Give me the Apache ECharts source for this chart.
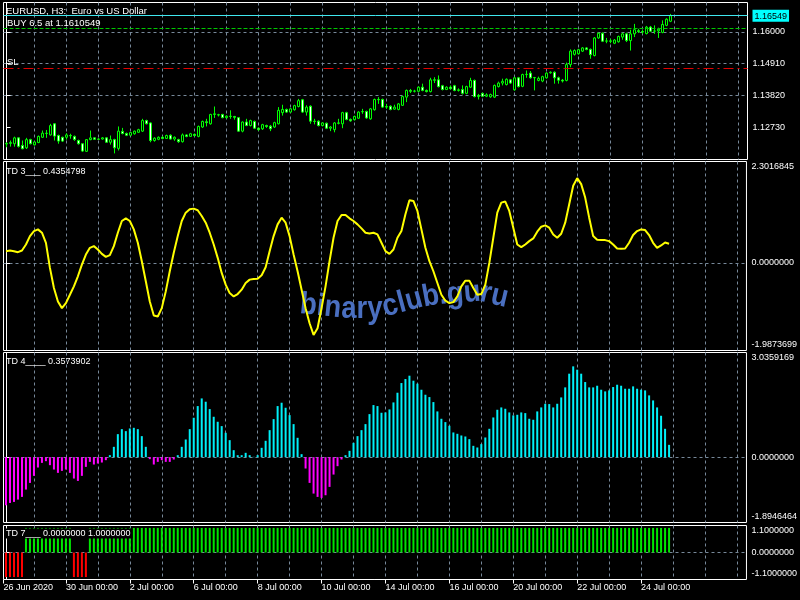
<!DOCTYPE html>
<html><head><meta charset="utf-8">
<script src="https://cdn.jsdelivr.net/npm/echarts@6/dist/echarts.min.js"></script>
<style>html,body{margin:0;padding:0;background:#000}#c{width:800px;height:600px}</style>
</head><body><div id="c"></div>
<script>
// ---------- texts ----------
const symbolTitle = 'EURUSD, H3:  Euro vs US Dollar';
const tradeText = 'BUY 6.5 at 1.1610549';
const slText = 'SL';
const td3Label = 'TD 3___ 0.4354798';
const td4Label = 'TD 4____ 0.3573902';
const td7Label = 'TD 7___ 0.0000000 1.0000000';
const watermark = 'binaryclub.guru';

// ---------- price levels ----------
const bidPrice = 1.16549;
const buyPrice = 1.1610549;
const slPrice = 1.14773;
const priceTicks = [1.12730, 1.13820, 1.14910, 1.16000];
const priceRange = [1.116416, 1.17];
const td3Range = [-1.9873699, 2.3016845];
const td4Range = [-1.8946464, 3.0359169];
const td7Range = [-1.1, 1.1];

// ---------- time axis (bar index) ----------
const xTickBars = [-0.625, 15, 31, 47, 63, 79, 95, 111, 127, 143, 159];
const xTickLabels = ['26 Jun 2020', '30 Jun 00:00', '2 Jul 00:00', '6 Jul 00:00', '8 Jul 00:00', '10 Jul 00:00',
  '14 Jul 00:00', '16 Jul 00:00', '20 Jul 00:00', '22 Jul 00:00', '24 Jul 00:00'];
const dayStartBars = [7, 15, 23, 31, 39, 47, 55, 63, 71, 79, 87, 95, 103, 111, 119, 127, 135, 143, 151, 159, 167, 175, 183];

// ---------- candles ----------
const open = [1.1217,1.1219,1.1218,1.1238,1.1212,1.1204,1.1232,1.1214,1.1222,1.1240,1.1254,1.1248,1.1286,1.1246,1.1240,1.1240,1.1246,1.1243,1.1229,1.1218,
1.1192,1.1232,1.1238,1.1233,1.1234,1.1238,1.1223,1.1232,1.1202,1.1260,1.1253,1.1247,1.1252,1.1257,1.1261,1.1297,1.1289,1.1229,1.1233,1.1240,
1.1236,1.1247,1.1234,1.1232,1.1225,1.1248,1.1243,1.1250,1.1243,1.1275,1.1293,1.1286,1.1318,1.1316,1.1318,1.1307,1.1312,1.1311,1.1307,1.1261,
1.1292,1.1280,1.1294,1.1271,1.1269,1.1280,1.1278,1.1275,1.1286,1.1324,1.1335,1.1326,1.1334,1.1345,1.1368,1.1326,1.1346,1.1295,1.1295,1.1280,
1.1288,1.1271,1.1266,1.1289,1.1286,1.1324,1.1301,1.1300,1.1305,1.1327,1.1328,1.1303,1.1334,1.1369,1.1369,1.1343,1.1346,1.1336,1.1335,1.1349,
1.1377,1.1400,1.1397,1.1397,1.1411,1.1400,1.1396,1.1436,1.1436,1.1416,1.1403,1.1411,1.1416,1.1400,1.1403,1.1390,1.1411,1.1434,1.1379,1.1390,
1.1380,1.1378,1.1377,1.1413,1.1425,1.1420,1.1436,1.1402,1.1443,1.1414,1.1454,1.1459,1.1443,1.1434,1.1432,1.1443,1.1460,1.1462,1.1443,1.1435,
1.1434,1.1488,1.1523,1.1525,1.1534,1.1545,1.1540,1.1519,1.1579,1.1595,1.1568,1.1569,1.1561,1.1566,1.1582,1.1593,1.1570,1.1593,1.1604,1.1601,
1.1594,1.1616,1.1602,1.1603,1.1598,1.1622,1.1636];
const high = [1.1223,1.1229,1.1242,1.1240,1.1229,1.1238,1.1235,1.1226,1.1246,1.1263,1.1265,1.1286,1.1288,1.1249,1.1242,1.1254,1.1252,1.1246,1.1232,1.1220,
1.1234,1.1263,1.1240,1.1237,1.1241,1.1241,1.1246,1.1235,1.1277,1.1272,1.1256,1.1258,1.1263,1.1269,1.1303,1.1300,1.1291,1.1240,1.1243,1.1244,
1.1249,1.1250,1.1243,1.1235,1.1253,1.1250,1.1255,1.1253,1.1280,1.1297,1.1303,1.1320,1.1345,1.1320,1.1320,1.1315,1.1332,1.1313,1.1309,1.1294,
1.1303,1.1300,1.1297,1.1274,1.1286,1.1283,1.1282,1.1293,1.1343,1.1351,1.1338,1.1340,1.1351,1.1371,1.1371,1.1349,1.1349,1.1303,1.1298,1.1291,
1.1290,1.1278,1.1292,1.1303,1.1327,1.1327,1.1304,1.1314,1.1329,1.1337,1.1331,1.1340,1.1372,1.1377,1.1372,1.1354,1.1349,1.1351,1.1357,1.1382,
1.1403,1.1405,1.1402,1.1414,1.1423,1.1403,1.1443,1.1445,1.1451,1.1419,1.1414,1.1417,1.1419,1.1407,1.1417,1.1416,1.1443,1.1437,1.1388,1.1392,
1.1390,1.1389,1.1420,1.1430,1.1440,1.1441,1.1439,1.1446,1.1446,1.1457,1.1468,1.1466,1.1446,1.1447,1.1450,1.1462,1.1465,1.1465,1.1447,1.1439,
1.1495,1.1540,1.1540,1.1542,1.1548,1.1548,1.1543,1.1582,1.1598,1.1598,1.1579,1.1576,1.1575,1.1587,1.1597,1.1597,1.1607,1.1627,1.1610,1.1606,
1.1620,1.1620,1.1622,1.1614,1.1639,1.1646,1.1661];
const low = [1.1206,1.1208,1.1208,1.1205,1.1199,1.1200,1.1216,1.1212,1.1220,1.1238,1.1238,1.1246,1.1229,1.1218,1.1224,1.1232,1.1235,1.1228,1.1215,1.1190,
1.1190,1.1230,1.1231,1.1231,1.1232,1.1221,1.1215,1.1185,1.1195,1.1250,1.1244,1.1245,1.1249,1.1255,1.1258,1.1284,1.1223,1.1225,1.1230,1.1233,
1.1234,1.1232,1.1228,1.1221,1.1222,1.1240,1.1241,1.1243,1.1240,1.1272,1.1277,1.1283,1.1306,1.1311,1.1305,1.1304,1.1303,1.1300,1.1259,1.1257,
1.1278,1.1277,1.1268,1.1262,1.1265,1.1272,1.1261,1.1272,1.1284,1.1314,1.1323,1.1323,1.1331,1.1342,1.1323,1.1314,1.1286,1.1284,1.1277,1.1277,
1.1268,1.1261,1.1257,1.1284,1.1271,1.1298,1.1293,1.1297,1.1303,1.1320,1.1303,1.1300,1.1331,1.1354,1.1340,1.1337,1.1332,1.1334,1.1332,1.1347,
1.1360,1.1391,1.1393,1.1394,1.1397,1.1393,1.1393,1.1425,1.1410,1.1400,1.1401,1.1403,1.1397,1.1396,1.1386,1.1387,1.1408,1.1376,1.1369,1.1377,
1.1377,1.1375,1.1374,1.1410,1.1417,1.1417,1.1422,1.1399,1.1410,1.1411,1.1443,1.1440,1.1400,1.1431,1.1428,1.1440,1.1457,1.1423,1.1423,1.1427,
1.1431,1.1479,1.1519,1.1522,1.1531,1.1537,1.1508,1.1516,1.1576,1.1565,1.1561,1.1561,1.1558,1.1563,1.1573,1.1565,1.1536,1.1582,1.1596,1.1593,
1.1591,1.1599,1.1593,1.1579,1.1595,1.1619,1.1633];
const close = [1.1219,1.1222,1.1238,1.1209,1.1201,1.1232,1.1218,1.1224,1.1243,1.1254,1.1253,1.1280,1.1244,1.1227,1.1227,1.1248,1.1245,1.1232,1.1218,1.1193,
1.1232,1.1238,1.1233,1.1234,1.1238,1.1223,1.1232,1.1204,1.1261,1.1253,1.1247,1.1256,1.1261,1.1266,1.1297,1.1286,1.1229,1.1237,1.1240,1.1236,
1.1246,1.1234,1.1240,1.1225,1.1248,1.1243,1.1252,1.1246,1.1277,1.1294,1.1290,1.1318,1.1320,1.1317,1.1307,1.1312,1.1311,1.1308,1.1261,1.1292,
1.1280,1.1297,1.1271,1.1266,1.1283,1.1277,1.1269,1.1290,1.1332,1.1335,1.1326,1.1337,1.1348,1.1365,1.1326,1.1343,1.1295,1.1294,1.1280,1.1289,
1.1271,1.1275,1.1289,1.1288,1.1324,1.1301,1.1296,1.1311,1.1326,1.1328,1.1306,1.1337,1.1369,1.1368,1.1343,1.1345,1.1335,1.1343,1.1354,1.1379,
1.1400,1.1397,1.1398,1.1411,1.1400,1.1396,1.1436,1.1435,1.1413,1.1403,1.1411,1.1406,1.1400,1.1402,1.1390,1.1413,1.1434,1.1379,1.1383,1.1380,
1.1385,1.1386,1.1417,1.1425,1.1431,1.1438,1.1425,1.1443,1.1413,1.1454,1.1455,1.1443,1.1444,1.1441,1.1447,1.1459,1.1462,1.1443,1.1435,1.1432,
1.1488,1.1534,1.1536,1.1539,1.1545,1.1540,1.1522,1.1579,1.1595,1.1568,1.1569,1.1568,1.1572,1.1584,1.1593,1.1570,1.1593,1.1607,1.1601,1.1599,
1.1616,1.1602,1.1603,1.1609,1.1625,1.1643,1.16549];

// ---------- indicators ----------
const td3 = [0.267,0.282,0.267,0.244,0.282,0.419,0.609,0.723,0.761,0.685,0.457,-0.113,-0.570,-0.874,-1.026,-0.912,-0.722,-0.531,-0.303,-0.037,
0.191,0.343,0.381,0.305,0.206,0.138,0.176,0.381,0.685,0.951,1.012,0.951,0.761,0.457,0.039,-0.417,-0.874,-1.193,-1.216,-1.026,
-0.646,-0.189,0.229,0.609,0.951,1.141,1.217,1.232,1.195,1.065,0.913,0.685,0.419,0.115,-0.227,-0.493,-0.684,-0.760,-0.706,-0.607,
-0.456,-0.379,-0.364,-0.357,-0.281,-0.098,0.267,0.609,0.875,1.027,0.913,0.609,0.191,-0.189,-0.607,-1.026,-1.368,-1.634,-1.482,-1.026,
-0.531,0.039,0.571,0.951,1.088,1.088,1.012,0.951,0.875,0.784,0.685,0.670,0.685,0.647,0.457,0.267,0.206,0.305,0.571,0.723,
1.103,1.423,1.407,1.179,0.761,0.343,0.039,-0.189,-0.456,-0.722,-0.858,-0.912,-0.889,-0.760,-0.531,-0.402,-0.402,-0.570,-0.722,-0.706,
-0.493,0.001,0.571,1.141,1.369,1.392,1.179,0.799,0.419,0.358,0.419,0.495,0.556,0.708,0.822,0.852,0.799,0.647,0.571,0.662,
0.913,1.331,1.750,1.924,1.788,1.483,1.027,0.609,0.525,0.518,0.518,0.495,0.419,0.328,0.320,0.328,0.457,0.632,0.723,0.761,
0.746,0.632,0.457,0.343,0.396,0.465,0.4354798];
const td4 = [-1.395,-1.327,-1.298,-1.230,-1.152,-0.939,-0.746,-0.542,-0.300,-0.165,-0.116,-0.232,-0.358,-0.455,-0.397,-0.358,-0.455,-0.620,-0.688,-0.542,
-0.281,-0.136,-0.213,-0.184,-0.155,-0.087,0.058,0.300,0.668,0.813,0.755,0.833,0.852,0.813,0.610,0.300,-0.058,-0.213,-0.136,-0.087,
-0.136,-0.136,-0.068,0.058,0.300,0.513,0.813,1.143,1.482,1.704,1.608,1.395,1.172,1.027,0.901,0.707,0.494,0.203,0.058,0.058,
0.126,0.058,0.010,0.058,0.271,0.475,0.784,1.104,1.482,1.579,1.433,1.220,0.959,0.562,0.087,-0.329,-0.746,-1.056,-1.152,-1.181,
-1.104,-0.862,-0.504,-0.261,-0.068,0.058,0.184,0.416,0.610,0.784,0.959,1.249,1.511,1.482,1.288,1.298,1.385,1.588,1.869,2.150,
2.266,2.363,2.218,2.131,1.956,1.811,1.743,1.598,1.327,1.114,1.017,0.910,0.717,0.678,0.629,0.600,0.523,0.329,0.281,0.378,
0.571,0.823,1.152,1.375,1.443,1.404,1.298,1.211,1.230,1.298,1.278,1.114,1.085,1.327,1.443,1.549,1.540,1.443,1.549,1.733,
2.024,2.421,2.634,2.537,2.421,2.179,2.024,2.024,2.072,1.956,1.908,1.937,2.034,2.101,2.072,1.985,1.985,2.053,1.985,1.956,
1.937,1.792,1.646,1.443,1.201,0.823,0.3573902];
const td7 = [-1,-1,-1,-1,-1,1,1,1,1,1,1,1,1,1,1,1,1,-1,-1,-1,
-1,1,1,1,1,1,1,1,1,1,1,1,1,1,1,1,1,1,1,1,
1,1,1,1,1,1,1,1,1,1,1,1,1,1,1,1,1,1,1,1,
1,1,1,1,1,1,1,1,1,1,1,1,1,1,1,1,1,1,1,1,
1,1,1,1,1,1,1,1,1,1,1,1,1,1,1,1,1,1,1,1,
1,1,1,1,1,1,1,1,1,1,1,1,1,1,1,1,1,1,1,1,
1,1,1,1,1,1,1,1,1,1,1,1,1,1,1,1,1,1,1,1,
1,1,1,1,1,1,1,1,1,1,1,1,1,1,1,1,1,1,1,1,
1,1,1,1,1,1,1];

// ---------- styling ----------
const FONT = '"Liberation Sans", Arial, sans-serif';
const GRIDC = '#778899';
const LIME = '#00ff00';
const CYAN = '#00ffff';
const DASH = [3, 3];

const chart = echarts.init(document.getElementById('c'), null, {renderer: 'canvas'});

const grids = [
  {top: 2.5, height: 157}, {top: 161.5, height: 189}, {top: 352.5, height: 170}, {top: 525.5, height: 54}
].map(g => Object.assign({left: 3.5, width: 744, show: true, borderColor: '#ffffff', borderWidth: 1,
  backgroundColor: 'transparent', containLabel: false}, g));

function splitX(gi, min) {
  return {type: 'value', gridIndex: gi, min, max: min + 186, position: 'bottom',
    axisLine: {show: false}, axisTick: {show: false, customValues: dayStartBars},
    axisLabel: {show: false, customValues: dayStartBars},
    splitLine: {show: true, lineStyle: {color: GRIDC, type: DASH, width: 1}}};
}
const xAxes = [
  splitX(0, -0.75),
  splitX(1, -0.625),
  splitX(2, -0.625),
  splitX(3, -0.625),
  {type: 'value', gridIndex: 3, min: -0.625, max: 185.375, position: 'bottom',
    axisLine: {show: false},
    axisTick: {show: true, length: 4, customValues: xTickBars, lineStyle: {color: '#ffffff'}},
    axisLabel: {show: true, customValues: xTickBars, color: '#ffffff', fontSize: 9, fontFamily: FONT,
      align: 'left', margin: 4, hideOverlap: false,
      formatter: v => {
        let k = 0, best = 1e9;
        xTickBars.forEach((b, j) => { const d = Math.abs(b - v); if (d < best) { best = d; k = j; } });
        return xTickLabels[k];
      }},
    splitLine: {show: false}}
];

const labelBase = {color: '#ffffff', fontSize: 9, fontFamily: FONT};
function indY(gi, range) {
  const mn = range[0], mx = range[1];
  const vals = [mn, 0, mx];
  return {type: 'value', gridIndex: gi, position: 'right', min: mn, max: mx,
    axisLine: {show: true, lineStyle: {color: '#ffffff'}},
    axisTick: {show: true, length: 4, customValues: vals, lineStyle: {color: '#ffffff'}},
    axisLabel: Object.assign({customValues: vals, margin: 5, hideOverlap: false,
      formatter: v => {
        const s = v.toFixed(7);
        if (Math.abs(v - mx) < 1e-9) return '{t|' + s + '}';
        if (Math.abs(v - mn) < 1e-9) return '{b|' + s + '}';
        return s;
      },
      rich: {t: Object.assign({padding: [11, 0, 0, 0]}, labelBase), b: Object.assign({padding: [0, 0, 12, 0]}, labelBase)}
    }, labelBase),
    splitLine: {show: true, showMinLine: false, showMaxLine: false, lineStyle: {color: GRIDC, type: DASH, width: 1}}};
}
const priceLabelVals = priceTicks.concat([bidPrice]);
const yAxes = [
  {type: 'value', gridIndex: 0, position: 'right', min: priceRange[0], max: priceRange[1],
    axisLine: {show: true, lineStyle: {color: '#ffffff'}},
    axisTick: {show: true, length: 4, customValues: priceLabelVals, lineStyle: {color: '#ffffff'}},
    axisLabel: Object.assign({customValues: priceLabelVals, margin: 5, hideOverlap: false,
      formatter: v => Math.abs(v - bidPrice) < 1e-9 ? '{cur|' + v.toFixed(5) + '}' : v.toFixed(5),
      rich: {cur: {backgroundColor: CYAN, color: '#000000', fontSize: 9, fontFamily: FONT, padding: [2, 2, 1, 2]}}
    }, labelBase),
    splitLine: {show: true, showMinLine: false, showMaxLine: false, lineStyle: {color: GRIDC, type: DASH, width: 1}}},
  indY(1, td3Range),
  indY(2, td4Range),
  indY(3, td7Range)
];

// watermark along a wavy baseline (horizontally condensed bold text)
function watermarkElems() {
  const fam = '"Liberation Sans", Arial, sans-serif';
  const size = 31;
  const font = 'bold ' + size + 'px ' + fam;
  const ctx = document.createElement('canvas').getContext('2d');
  ctx.font = font;
  const sx = 208 / ctx.measureText(watermark).width;
  const path = [[290, 315], [307, 316], [345, 320], [380, 320], [417, 310], [435, 306.7], [480, 303], [510, 310], [530, 314]];
  const yAt = x => {
    for (let k = 0; k < path.length - 1; k++) {
      const a = path[k], b = path[k + 1];
      if (x >= a[0] && x <= b[0]) return a[1] + (b[1] - a[1]) * (x - a[0]) / (b[0] - a[0]);
    }
    return path[path.length - 1][1];
  };
  const els = [];
  let x = 300;
  for (const ch of watermark) {
    const cw = ctx.measureText(ch).width * sx;
    const cx = x + cw / 2;
    const yb = yAt(cx);
    const slope = (yAt(cx + 3) - yAt(cx - 3)) / 6;
    els.push({type: 'text', x: cx, y: yb - 0.35 * size, rotation: -Math.atan(slope), scaleX: sx, z: 1, silent: true,
      style: {text: ch, font: font, fill: '#4a6fc0', align: 'center', verticalAlign: 'middle'}});
    x += cw;
  }
  return els;
}

function label(text, x, y, extra) {
  return {type: 'text', x, y, z: 100, silent: true,
    style: Object.assign({text, fill: '#ffffff', font: '9px ' + FONT, align: 'left', verticalAlign: 'middle'}, extra || {})};
}

const option = {
  backgroundColor: '#000000',
  animation: false,
  grid: grids,
  xAxis: xAxes,
  yAxis: yAxes,
  graphic: watermarkElems().concat([
    label(symbolTitle, 6, 11, {font: '9.5px ' + FONT}),
    label(tradeText, 7, 23, {font: '9.5px ' + FONT}),
    label(slText, 7, 62, {font: '9.5px ' + FONT}),
    label(td3Label, 6, 171.5),
    label(td4Label, 6, 362),
    label(td7Label, 4, 533.5, {backgroundColor: '#000000', padding: [1, 2, 0, 2]})
  ]),
  series: [
    {type: 'candlestick', xAxisIndex: 0, yAxisIndex: 0, barWidth: 2,
      data: open.map((o, i) => [i, o, close[i], low[i], high[i]]),
      itemStyle: {color: '#000000', color0: '#ffffff', borderColor: LIME, borderColor0: LIME, borderColorDoji: LIME, borderWidth: 1},
      markLine: {silent: true, symbol: 'none', animation: false, precision: 7, label: {show: false},
        data: [
          {yAxis: slPrice, lineStyle: {color: '#e00000', type: [10, 4, 2, 4], width: 1}},
          {yAxis: buyPrice, lineStyle: {color: '#00c800', type: [4, 2], width: 1}},
          {yAxis: bidPrice, lineStyle: {color: '#40e8f0', type: 'solid', width: 1}}
        ]}},
    {type: 'line', xAxisIndex: 1, yAxisIndex: 1, data: td3.map((v, i) => [i, v]),
      showSymbol: false, symbol: 'none', lineStyle: {color: '#ffff00', width: 2}, z: 3},
    {type: 'bar', xAxisIndex: 2, yAxisIndex: 2, barWidth: 2, data: td4.map((v, i) => [i, v]),
      itemStyle: {color: p => p.value[1] >= 0 ? '#00f0f8' : '#ff00ff'}},
    {type: 'bar', xAxisIndex: 3, yAxisIndex: 3, barWidth: 2, data: td7.map((v, i) => [i, v]),
      itemStyle: {color: p => p.value[1] >= 0 ? '#00e600' : '#ff0000'}}
  ]
};
chart.setOption(option);
</script>
</body></html>
